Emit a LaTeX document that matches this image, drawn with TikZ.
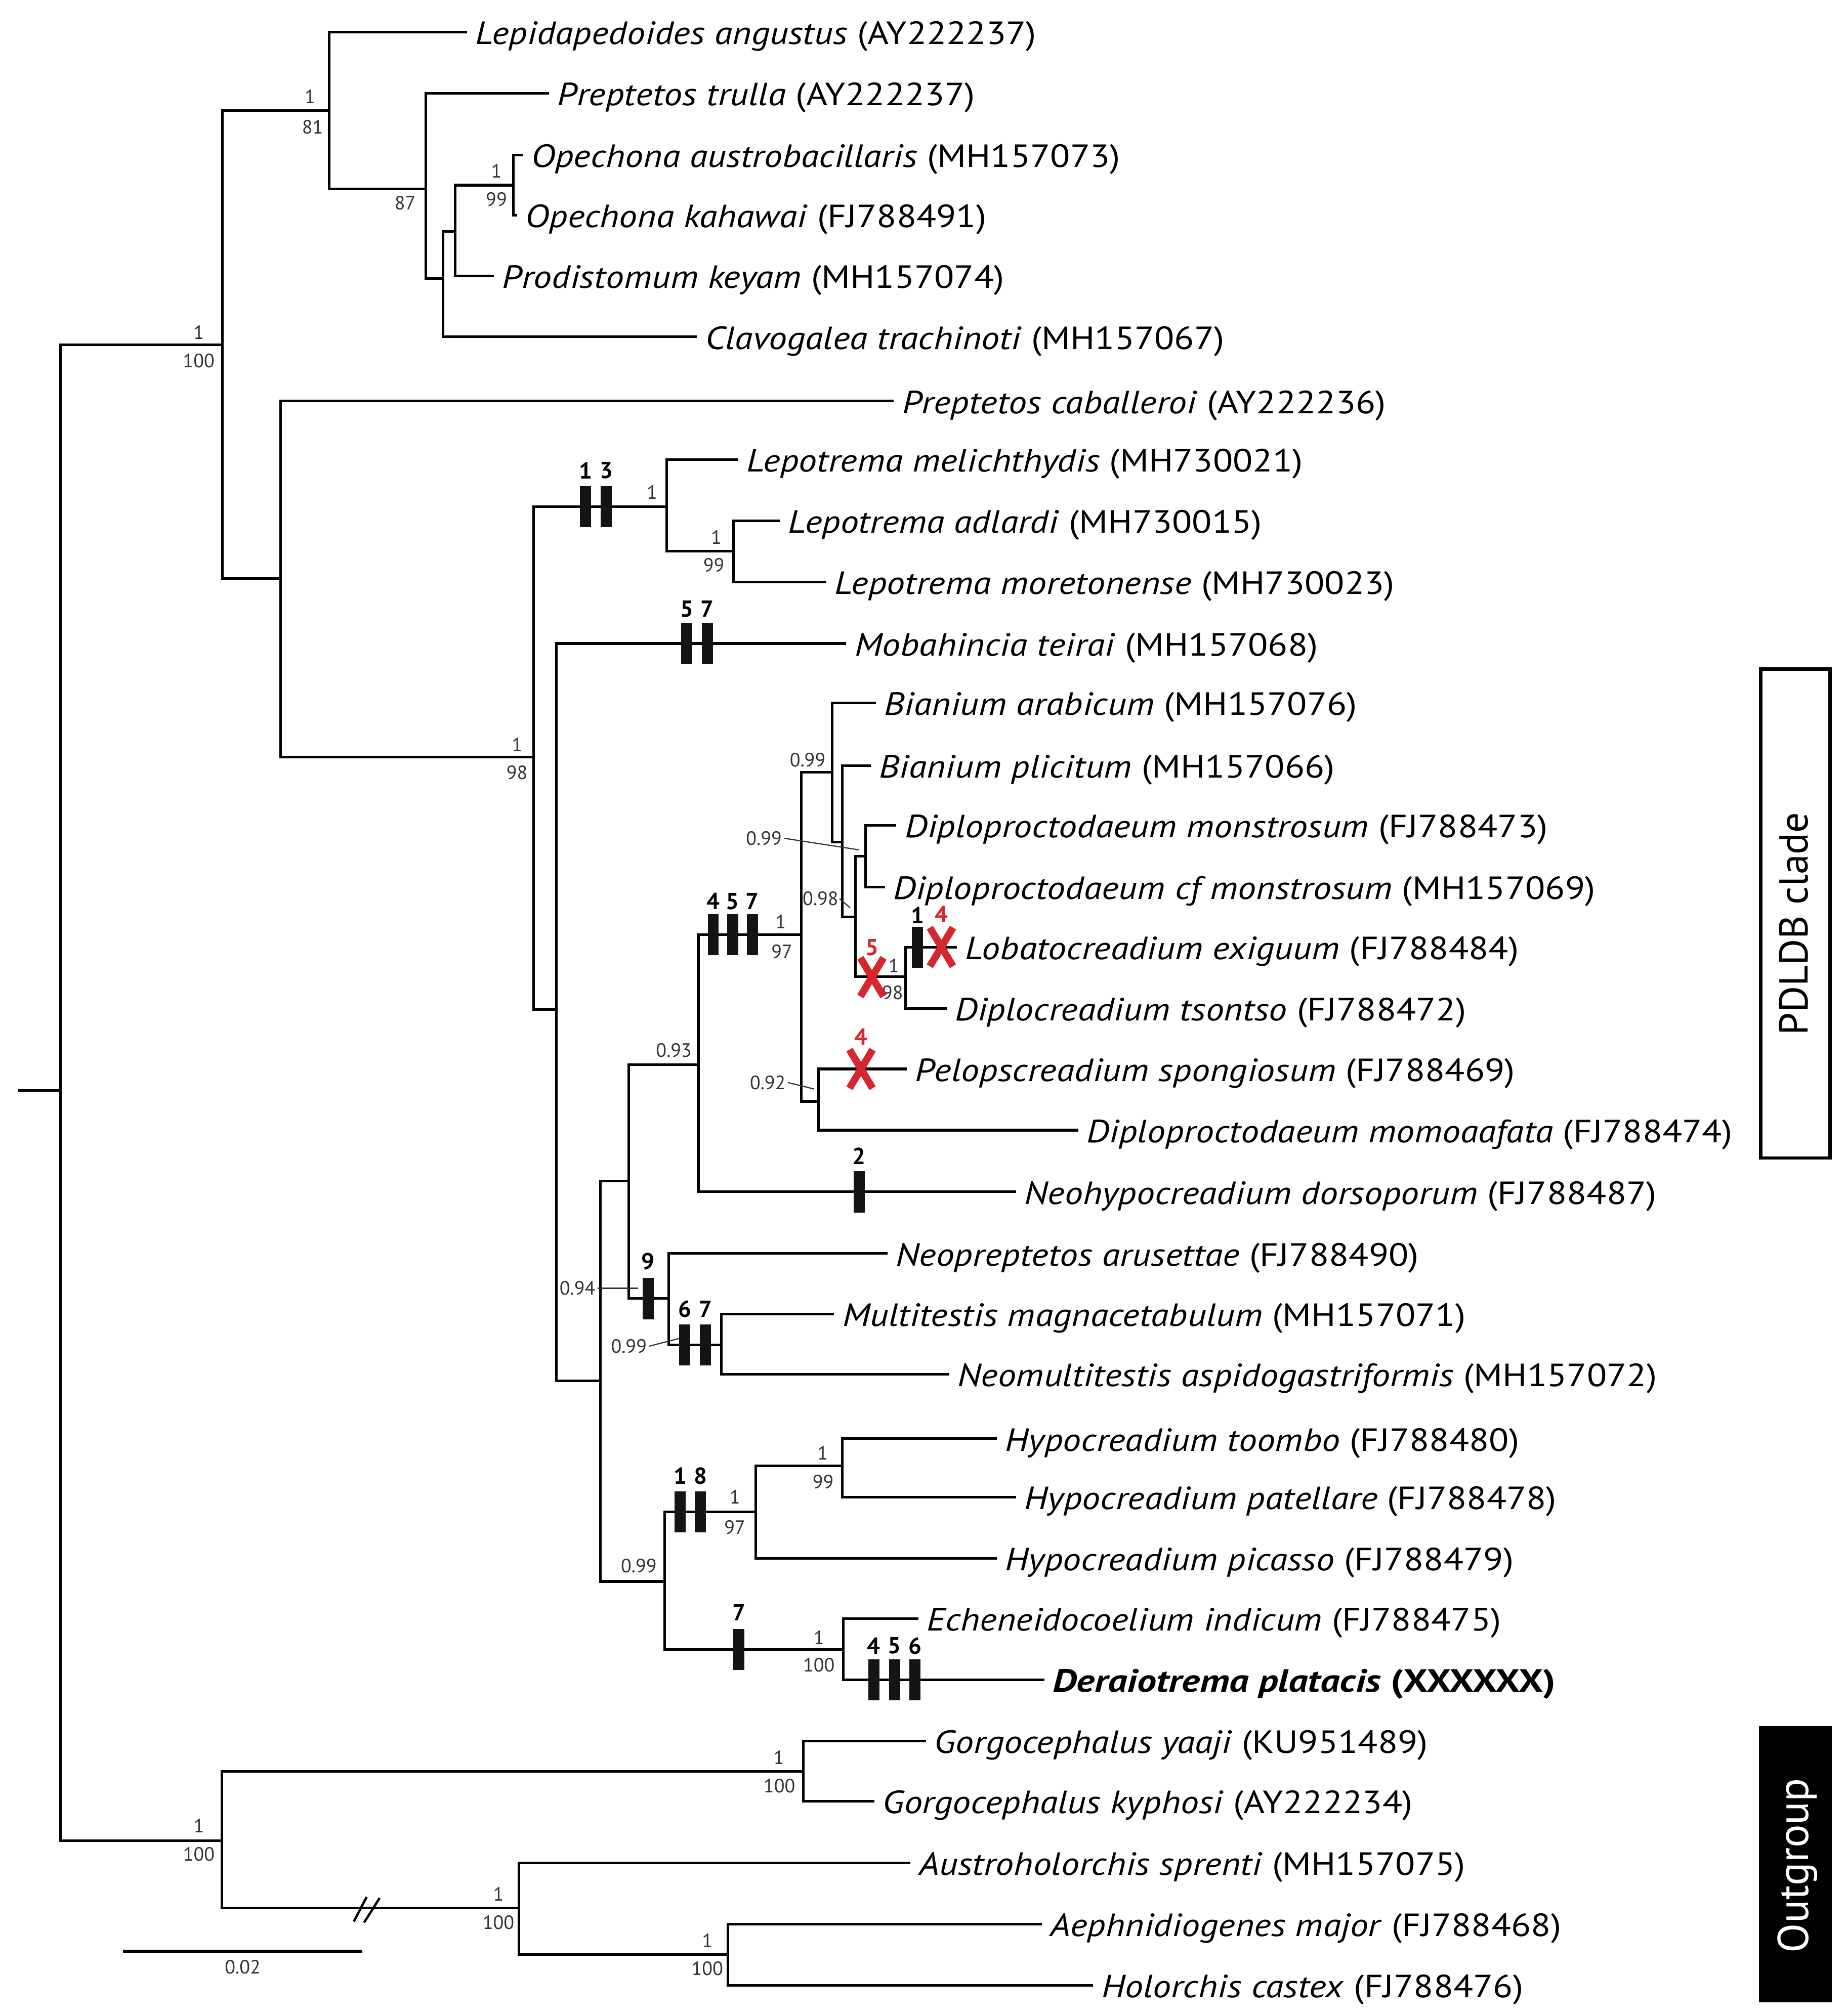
\documentclass[tikz,border=0pt]{standalone}
\usepackage{fontspec}
\setmainfont{PT Sans}
\newfontfamily\leaffont{PT Sans}[FakeStretch=1.135]
\newfontfamily\boldleaf{PT Sans}[FakeStretch=1.2]
\definecolor{xred}{RGB}{214,38,46}
\definecolor{supg}{RGB}{50,50,50}
\tikzset{
  br/.style={line width=1pt, line join=miter},
  leaf/.style={anchor=west, inner xsep=3.3pt, inner ysep=0pt, outer sep=0pt,
    text height=12pt, text depth=2.5pt, font=\leaffont\fontsize{12.5}{14}\selectfont},
  sup/.style={inner sep=0pt, outer sep=0pt, text=supg, font=\fontsize{7.5}{8}\selectfont},
  lead/.style={line width=0.45pt, draw=supg},
  chbar/.style={rectangle, fill=black!92, minimum width=4.3pt, minimum height=16pt, inner sep=0pt, outer sep=0pt},
  chnum/.style={inner sep=0pt, font=\bfseries\fontsize{9}{10}\selectfont},
  rednum/.style={inner sep=0pt, text=xred, font=\bfseries\fontsize{9}{10}\selectfont},
  redx/.pic={\draw[xred, line width=2.8pt] (-9,-15) -- (9,15) (-9,15) -- (9,-15);},
}
\begin{document}
\begin{tikzpicture}[x=0.5pt,y=-0.5pt]
\path[fill=white] (0,0) rectangle (1436,1568);
\useasboundingbox (0,0) rectangle (1436,1568);

% ---------- internal nodes ----------
\coordinate (rs) at (14,848);
\coordinate (root) at (47,848);
\coordinate (nA) at (173,268);
\coordinate (nB) at (256,86);
\coordinate (nC) at (331,147);
\coordinate (nD) at (344.5,216.5);
\coordinate (nE) at (354,180);
\coordinate (nF) at (399,144);
\coordinate (nG) at (218,450);
\coordinate (nH) at (415,589);
\coordinate (nI) at (518.5,394);
\coordinate (nJ) at (570.3,428.7);
\coordinate (nK) at (432.7,785);
\coordinate (nL) at (466.8,1074);
\coordinate (nM) at (489,918.7);
\coordinate (nN) at (543,828);
\coordinate (nO) at (623,727);
\coordinate (nP) at (647,600.6);
\coordinate (nQ) at (655,655);
\coordinate (nR) at (665,713);
\coordinate (nS) at (673,666);
\coordinate (nT) at (704,759.5);
\coordinate (nU) at (636.5,856.6);
\coordinate (nV) at (520,1010);
\coordinate (nW) at (560.8,1046);
\coordinate (nX) at (516.7,1230);
\coordinate (nY) at (587.5,1176);
\coordinate (nZ) at (654.8,1140);
\coordinate (nAA) at (655.7,1283);
\coordinate (nOG) at (172.7,1431.6);
\coordinate (nGG) at (624.5,1377.7);
\coordinate (nAH) at (403.6,1484);
\coordinate (nAI) at (566,1520);

% ---------- leaves ----------
\node[leaf] (l1) at (363,25) {\textit{Lepidapedoides angustus} (AY222237)};
\node[leaf] (l2) at (427,72.5) {\textit{Preptetos trulla} (AY222237)};
\node[leaf] (l3) at (406.6,120.5) {\textit{Opechona austrobacillaris} (MH157073)};
\node[leaf] (l4) at (402,167.5) {\textit{Opechona kahawai} (FJ788491)};
\node[leaf] (l5) at (384,214.6) {\textit{Prodistomum keyam} (MH157074)};
\node[leaf] (l6) at (542,262) {\textit{Clavogalea trachinoti} (MH157067)};
\node[leaf] (l7) at (695,312) {\textit{Preptetos caballeroi} (AY222236)};
\node[leaf] (l8) at (574,357.5) {\textit{Lepotrema melichthydis} (MH730021)};
\node[leaf] (l9) at (606.4,405) {\textit{Lepotrema adlardi} (MH730015)};
\node[leaf] (l10) at (642.5,452.6) {\textit{Lepotrema moretonense} (MH730023)};
\node[leaf] (l11) at (658,500.5) {\textit{Mobahincia teirai} (MH157068)};
\node[leaf] (l12) at (681,546.7) {\textit{Bianium arabicum} (MH157076)};
\node[leaf] (l13) at (677,595.4) {\textit{Bianium plicitum} (MH157066)};
\node[leaf] (l14) at (697,642) {\textit{Diploproctodaeum monstrosum} (FJ788473)};
\node[leaf] (l15) at (688,690) {\textit{Diploproctodaeum cf monstrosum} (MH157069)};
\node[leaf] (l16) at (744,736.8) {\textit{Lobatocreadium exiguum} (FJ788484)};
\node[leaf] (l17) at (736,784.4) {\textit{Diplocreadium tsontso} (FJ788472)};
\node[leaf] (l18) at (705,831.4) {\textit{Pelopscreadium spongiosum} (FJ788469)};
\node[leaf] (l19) at (838.5,879) {\textit{Diploproctodaeum momoaafata} (FJ788474)};
\node[leaf] (l20) at (790,927) {\textit{Neohypocreadium dorsoporum} (FJ788487)};
\node[leaf] (l21) at (690,975) {\textit{Neopreptetos arusettae} (FJ788490)};
\node[leaf] (l22) at (648.6,1022) {\textit{Multitestis magnacetabulum} (MH157071)};
\node[leaf] (l23) at (738,1069) {\textit{Neomultitestis aspidogastriformis} (MH157072)};
\node[leaf] (l24) at (775,1119) {\textit{Hypocreadium toombo} (FJ788480)};
\node[leaf] (l25) at (790,1164.4) {\textit{Hypocreadium patellare} (FJ788478)};
\node[leaf] (l26) at (775,1212) {\textit{Hypocreadium picasso} (FJ788479)};
\node[leaf] (l27) at (714,1259) {\textit{Echeneidocoelium indicum} (FJ788475)};
\node[leaf] (l28) at (812,1306.6) {\boldleaf\bfseries\textit{Deraiotrema platacis} (XXXXXX)};
\node[leaf] (l29) at (720,1354) {\textit{Gorgocephalus yaaji} (KU951489)};
\node[leaf] (l30) at (680,1401) {\textit{Gorgocephalus kyphosi} (AY222234)};
\node[leaf] (l31) at (708,1449) {\textit{Austroholorchis sprenti} (MH157075)};
\node[leaf] (l32) at (810,1496.6) {\textit{Aephnidiogenes major} (FJ788468)};
\node[leaf] (l33) at (850,1544) {\textit{Holorchis castex} (FJ788476)};

% ---------- branches ----------
\draw[br] (rs) -- (root);
\draw[br] (root) |- (nA);  \draw[br] (root) |- (nOG);
\draw[br] (nA) |- (nB);    \draw[br] (nA) |- (nG);
\draw[br] (nB) |- (l1.west); \draw[br] (nB) |- (nC);
\draw[br] (nC) |- (l2.west); \draw[br] (nC) |- (nD);
\draw[br] (nD) |- (nE);    \draw[br] (nD) |- (l6.west);
\draw[br] (nE) |- (nF);    \draw[br] (nE) |- (l5.west);
\draw[br] (nF) |- (l3.west); \draw[br] (nF) |- (l4.west);
\draw[br] (nG) |- (l7.west); \draw[br] (nG) |- (nH);
\draw[br] (nH) |- (nI);    \draw[br] (nH) |- (nK);
\draw[br] (nI) |- (l8.west); \draw[br] (nI) |- (nJ);
\draw[br] (nJ) |- (l9.west); \draw[br] (nJ) |- (l10.west);
\draw[br] (nK) |- (l11.west); \draw[br] (nK) |- (nL);
\draw[br] (nL) |- (nM);    \draw[br] (nL) |- (nX);
\draw[br] (nM) |- (nN);    \draw[br] (nM) |- (nV);
\draw[br] (nN) |- (nO);    \draw[br] (nN) |- (l20.west);
\draw[br] (nO) |- (nP);    \draw[br] (nO) |- (nU);
\draw[br] (nP) |- (l12.west); \draw[br] (nP) |- (nQ);
\draw[br] (nQ) |- (l13.west); \draw[br] (nQ) |- (nR);
\draw[br] (nR) |- (nS);    \draw[br] (nR) |- (nT);
\draw[br] (nS) |- (l14.west); \draw[br] (nS) |- (l15.west);
\draw[br] (nT) |- (l16.west); \draw[br] (nT) |- (l17.west);
\draw[br] (nU) |- (l18.west); \draw[br] (nU) |- (l19.west);
\draw[br] (nV) |- (l21.west); \draw[br] (nV) |- (nW);
\draw[br] (nW) |- (l22.west); \draw[br] (nW) |- (l23.west);
\draw[br] (nX) |- (nY);    \draw[br] (nX) |- (nAA);
\draw[br] (nY) |- (nZ);    \draw[br] (nY) |- (l26.west);
\draw[br] (nZ) |- (l24.west); \draw[br] (nZ) |- (l25.west);
\draw[br] (nAA) |- (l27.west); \draw[br] (nAA) |- (l28.west);
\draw[br] (nOG) |- (nGG);  \draw[br] (nOG) |- (nAH);
\draw[br] (nGG) |- (l29.west); \draw[br] (nGG) |- (l30.west);
\draw[br] (nAH) |- (l31.west); \draw[br] (nAH) |- (nAI);
\draw[br] (nAI) |- (l32.west); \draw[br] (nAI) |- (l33.west);

% break marks
\draw[line width=0.9pt] (275.1,1494.5) -- (285.1,1475.4);
\draw[line width=0.9pt] (283.1,1495.3) -- (295.2,1476.2);

% ---------- support values ----------
\node[sup] (sA1) at (154.5,258.5) {1};   \node[sup] (sA2) at (154.5,280.5) {100};
\node[sup] (sB1) at (241,75.3) {1};      \node[sup] (sB2) at (243,98.8) {81};
\node[sup] (sC2) at (315,158) {87};
\node[sup] (sF1) at (386,133) {1};       \node[sup] (sF2) at (386,155) {99};
\node[sup] (sH1) at (402,579) {1};       \node[sup] (sH2) at (402,601) {98};
\node[sup] (sI1) at (507,383) {1};
\node[sup] (sJ1) at (557,417.8) {1};     \node[sup] (sJ2) at (555,439.5) {99};
\node[sup] (sO1) at (607,717) {1};       \node[sup] (sO2) at (608,740) {97};
\node[sup] (sP1) at (628,591) {0.99};
\node[sup] (sS1) at (594,652) {0.99};
\node[sup] (sR1) at (638,699) {0.98};
\node[sup] (sT1) at (695,751) {1};       \node[sup] (sT2) at (694,772) {98};
\node[sup] (sU1) at (597,842) {0.92};
\node[sup] (sN1) at (524,817) {0.93};
\node[sup] (sV1) at (449,1002) {0.94};
\node[sup] (sW1) at (489,1047) {0.99};
\node[sup] (sX1) at (496.7,1218) {0.99};
\node[sup] (sY1) at (571.4,1164.4) {1};  \node[sup] (sY2) at (571.4,1187.8) {97};
\node[sup] (sZ1) at (639.7,1130) {1};    \node[sup] (sZ2) at (640,1152.7) {99};
\node[sup] (sAA1) at (636.7,1273.5) {1}; \node[sup] (sAA2) at (636.7,1294.8) {100};
\node[sup] (sOG1) at (154.6,1420) {1};   \node[sup] (sOG2) at (154.6,1442) {100};
\node[sup] (sGG1) at (605.6,1367) {1};   \node[sup] (sGG2) at (606,1389) {100};
\node[sup] (sAH1) at (387.6,1473) {1};   \node[sup] (sAH2) at (387.6,1495.3) {100};
\node[sup] (sAI1) at (550,1509.3) {1};   \node[sup] (sAI2) at (550,1531) {100};

% leader lines
\coordinate (tS) at (668,661);
\coordinate (tR) at (661,706);
\coordinate (tU) at (633,847);
\coordinate (tV) at (496,1002);
\coordinate (tW) at (528,1041);
\draw[lead] ([xshift=1pt]sS1.east) -- (tS);
\draw[lead] ([xshift=0.5pt]sR1.east) -- (tR);
\draw[lead] ([xshift=1pt]sU1.east) -- (tU);
\draw[lead] ([xshift=1pt]sV1.east) -- (tV);
\draw[lead] ([xshift=1pt]sW1.east) -- (tW);

% ---------- character bars ----------
\node[chbar] (b1) at (455.4,394) {};   \node[chnum] (c1) at (455.4,366) {1};
\node[chbar] (b2) at (471.5,394) {};   \node[chnum] (c2) at (471.5,366) {3};
\node[chbar] (b3) at (534,500.5) {};   \node[chnum] (c3) at (534,473.5) {5};
\node[chbar] (b4) at (550,500.5) {};   \node[chnum] (c4) at (550,473.5) {7};
\node[chbar] (b5) at (554.6,727) {};   \node[chnum] (c5) at (554.6,701) {4};
\node[chbar] (b6) at (569.7,727) {};   \node[chnum] (c6) at (569.7,701) {5};
\node[chbar] (b7) at (585,727) {};     \node[chnum] (c7) at (585,701) {7};
\node[chbar] (b8) at (713.5,736.8) {}; \node[chnum] (c8) at (713.5,712) {1};
\node[chbar] (b9) at (668,927) {};     \node[chnum] (c9) at (668,899) {2};
\node[chbar] (b10) at (504,1010) {};   \node[chnum] (c10) at (504,981) {9};
\node[chbar] (b11) at (532.4,1046) {}; \node[chnum] (c11) at (532.4,1018) {6};
\node[chbar] (b12) at (548.5,1046) {}; \node[chnum] (c12) at (548.5,1018) {7};
\node[chbar] (b13) at (528.9,1176) {}; \node[chnum] (c13) at (528.9,1148) {1};
\node[chbar] (b14) at (544.6,1176) {}; \node[chnum] (c14) at (544.6,1148) {8};
\node[chbar] (b15) at (574.5,1283) {}; \node[chnum] (c15) at (574.5,1254) {7};
\node[chbar] (b16) at (679.5,1306.6) {}; \node[chnum] (c16) at (679.5,1280) {4};
\node[chbar] (b17) at (695.5,1306.6) {}; \node[chnum] (c17) at (695.5,1280) {5};
\node[chbar] (b18) at (711.5,1306.6) {}; \node[chnum] (c18) at (711.5,1280) {6};

% red crosses (losses)
\pic at (732,736.5) {redx};  \node[rednum] (r1) at (732,711) {4};
\pic at (678,760) {redx};    \node[rednum] (r2) at (678,737) {5};
\pic at (669.5,831.4) {redx}; \node[rednum] (r3) at (669.5,806.5) {4};

% ---------- scale bar ----------
\coordinate (sb1) at (95.6,1517.6);
\coordinate (sb2) at (281.9,1517.6);
\draw[br] (sb1) -- (sb2);
\node[sup] (sbl) at (188.7,1530) {0.02};

% ---------- clade boxes ----------
\node[draw, line width=1.3pt, minimum width=27pt, minimum height=190.2pt, inner sep=0pt] (pbox) at (1396,710.5) {};
\node[rotate=90, inner sep=0pt, font=\fontsize{15.7}{18}\selectfont] (ptext) at (1394.7,718.5) {PDLDB clade};
\node[fill=black, draw=black, minimum width=28pt, minimum height=107pt, inner sep=0pt] (obox) at (1396,1450) {};
\node[rotate=90, inner sep=0pt, text=white, font=\fontsize{16.8}{18}\selectfont] (otext) at (1397.5,1451) {Outgroup};
\end{tikzpicture}
\end{document}
